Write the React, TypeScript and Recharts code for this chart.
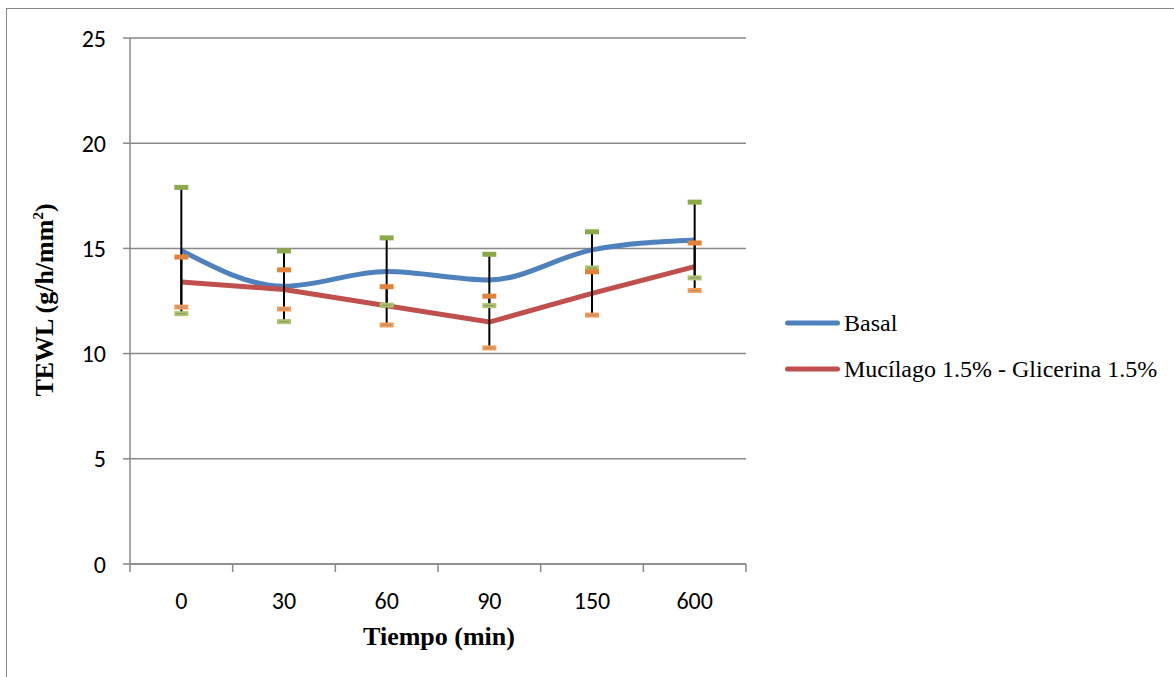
import { LineChart, Line, XAxis, YAxis, CartesianGrid, ErrorBar } from 'recharts';

// Tiempo (min) — categorías del eje X
const tiempos = ['0', '30', '60', '90', '150', '600'];

// TEWL medido (g/h/mm2) y su desviación
const basal = [14.9, 13.2, 13.9, 13.5, 14.93, 15.4];
const basalErr = [3.0, 1.68, 1.6, 1.22, 0.86, 1.8];
const mucilago = [13.4, 13.05, 12.27, 11.5, 12.86, 14.13];
const mucilagoErr = [1.19, 0.93, 0.91, 1.23, 1.03, 1.13];

const yTicks = [0, 5, 10, 15, 20, 25];

const data = tiempos.map((t, i) => ({
    t,
    basal: basal[i],
    basalErr: basalErr[i],
    basalHi: basal[i] + basalErr[i],
    basalLo: basal[i] - basalErr[i],
    mucilago: mucilago[i],
    mucilagoErr: mucilagoErr[i],
    mucilagoHi: mucilago[i] + mucilagoErr[i],
    mucilagoLo: mucilago[i] - mucilagoErr[i],
}));

const AXIS = '#898989';
const BLUE = '#4F81BD';
const RED = '#C0504D';
const BAND = 616 / 6;
const TICK_FONT = 'Carlito, Lato, sans-serif';

const capDot = (fill: string, inner?: string) => (props: any) => {
    const { cx, cy, index } = props;
    if (cx == null || cy == null) return <g key={`c-${index}`} />;
    return (
        <g key={`cap-${index}`}>
            <rect x={cx - 7} y={cy - 2.5} width={14} height={5} fill={fill} />
            {inner && <line x1={cx - 5} x2={cx + 5} y1={cy} y2={cy} stroke={inner} strokeWidth={1} />}
        </g>
    );
};

// ticks de Excel entre categorías
const XTick = (props: any) => {
    const { x, y, payload, index } = props;
    const left = x - BAND / 2;
    return (
        <g>
            <line x1={left} x2={left} y1={y} y2={y + 8} stroke={AXIS} strokeWidth={1.5} />
            {index === tiempos.length - 1 && (
                <line x1={x + BAND / 2} x2={x + BAND / 2} y1={y} y2={y + 8} stroke={AXIS} strokeWidth={1.5} />
            )}
            <text x={x} y={y + 36} textAnchor="middle" dominantBaseline="central" fontSize={24} fontFamily={TICK_FONT} fill="#000">
                {payload.value}
            </text>
        </g>
    );
};

export default function App() {
    const serif = "'Liberation Serif', 'Times New Roman', serif";
    return (
        <div style={{ position: 'absolute', left: 0, top: 0, width: 1174, height: 677, overflow: 'hidden', background: '#fff' }}>
            <div style={{ position: 'absolute', left: 6, top: 8, width: 1200, height: 700, border: '1.5px solid #868686' }} />
            <div style={{ position: 'absolute', left: 0, top: 0 }}>
                <LineChart width={1174} height={677} data={data} margin={{ top: 38, right: 428, bottom: 73, left: 0 }}>
                    <CartesianGrid vertical={false} stroke={AXIS} strokeWidth={1.5} />
                    <XAxis dataKey="t" scale="band" height={40} tickSize={0} tickMargin={0} tick={<XTick />} axisLine={{ stroke: AXIS, strokeWidth: 1.5 }} tickLine={false} interval={0} />
                    <YAxis
                        domain={[0, 25]}
                        ticks={yTicks}
                        width={130}
                        tickSize={7}
                        tickMargin={17}
                        axisLine={{ stroke: AXIS, strokeWidth: 1.5 }}
                        tickLine={{ stroke: AXIS, strokeWidth: 1.5 }}
                        tick={{ fontSize: 24, fontFamily: TICK_FONT, fill: '#000' }}
                    />
                    <Line type="monotone" dataKey="basal" stroke={BLUE} strokeWidth={5} dot={false} activeDot={false} isAnimationActive={false} />
                    <Line type="linear" dataKey="mucilago" stroke={RED} strokeWidth={5} dot={false} activeDot={false} isAnimationActive={false} />
                    <Line dataKey="basal" stroke="none" dot={false} activeDot={false} isAnimationActive={false} legendType="none">
                        <ErrorBar dataKey="basalErr" width={0} stroke="#000" strokeWidth={2} direction="y" isAnimationActive={false} />
                    </Line>
                    <Line dataKey="mucilago" stroke="none" dot={false} activeDot={false} isAnimationActive={false} legendType="none">
                        <ErrorBar dataKey="mucilagoErr" width={0} stroke="#000" strokeWidth={2} direction="y" isAnimationActive={false} />
                    </Line>
                    <Line dataKey="basalHi" stroke="none" dot={capDot('#8CAA4C')} activeDot={false} isAnimationActive={false} legendType="none" />
                    <Line dataKey="basalLo" stroke="none" dot={capDot('#A8C66A', '#9a8a6a')} activeDot={false} isAnimationActive={false} legendType="none" />
                    <Line dataKey="mucilagoHi" stroke="none" dot={capDot('#E2833B')} activeDot={false} isAnimationActive={false} legendType="none" />
                    <Line dataKey="mucilagoLo" stroke="none" dot={capDot('#F59B55', '#a08f80')} activeDot={false} isAnimationActive={false} legendType="none" />
                </LineChart>
            </div>

            {/* títulos de ejes */}
            <div style={{ position: 'absolute', left: 45, top: 300, transform: 'translate(-50%, -50%) rotate(-90deg)', whiteSpace: 'nowrap', fontFamily: serif, fontWeight: 'bold', fontSize: 26 }}>
                TEWL (g/h/mm<sup style={{ fontSize: 15 }}>2</sup>)
            </div>
            <div style={{ position: 'absolute', left: 439, top: 637, transform: 'translate(-50%, -50%)', whiteSpace: 'nowrap', fontFamily: serif, fontWeight: 'bold', fontSize: 26 }}>
                Tiempo (min)
            </div>

            {/* leyenda */}
            {[
                { name: 'Basal', color: BLUE, top: 323 },
                { name: 'Mucílago 1.5% - Glicerina 1.5%', color: RED, top: 369 },
            ].map(item => (
                <div key={item.name} style={{ position: 'absolute', left: 785, top: item.top, transform: 'translateY(-50%)', display: 'flex', alignItems: 'center', whiteSpace: 'nowrap' }}>
                    <div style={{ width: 55, height: 5, borderRadius: 3, background: item.color, marginRight: 4 }} />
                    <span style={{ fontFamily: serif, fontSize: 24, color: '#000' }}>{item.name}</span>
                </div>
            ))}
        </div>
    );
}
